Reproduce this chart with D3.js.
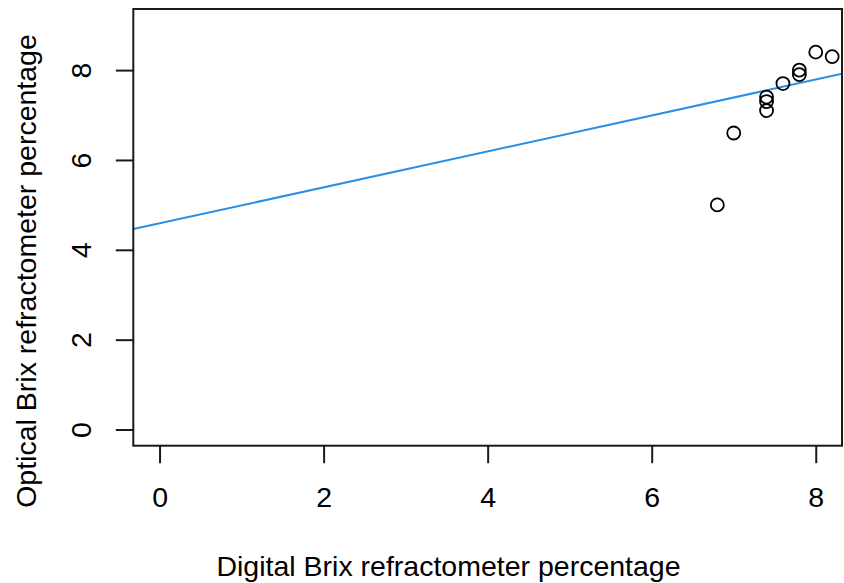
<!DOCTYPE html>
<html>
<head>
<meta charset="utf-8">
<script src="https://cdn.jsdelivr.net/npm/d3@7"></script>
<style>
  html, body { margin: 0; padding: 0; background: #fff; }
  svg text { font-family: "Liberation Sans", Arial, Helvetica, sans-serif; fill: #000; }
</style>
</head>
<body>
<svg id="chart" width="844" height="583"></svg>
<script>
// Digital vs optical Brix readings
const digitalBrix = [8.0, 8.2, 7.8, 7.8, 7.6, 7.4, 7.4, 7.4, 7.0, 6.8];
const opticalBrix = [8.4, 8.3, 8.0, 7.9, 7.7, 7.4, 7.3, 7.1, 6.6, 5.0];

// Reference line (intercept, slope)
const lineIntercept = 4.59;
const lineSlope = 0.40;

const xTicks = [0, 2, 4, 6, 8];
const yTicks = [0, 2, 4, 6, 8];
const xLimits = [0, 8];
const yLimits = [0, 9];

const xTitle = "Digital Brix refractometer percentage";
const yTitle = "Optical Brix refractometer percentage";

const svg = d3.select("#chart");
const plot = { left: 133.3, right: 842, top: 9, bottom: 445.7 };

// R-style 4% padding around the limits
const pad = (lim) => { const d = (lim[1] - lim[0]) * 0.04; return [lim[0] - d, lim[1] + d]; };

const x = d3.scaleLinear().domain(pad(xLimits)).range([plot.left, plot.right]);
const y = d3.scaleLinear().domain(pad(yLimits)).range([plot.bottom, plot.top]);

const fontSize = 28.5;
const tickLen = 17.5;

// Regression line, clipped to the plotting region
svg.append("clipPath").attr("id", "plotClip")
  .append("rect")
  .attr("x", plot.left).attr("y", plot.top)
  .attr("width", plot.right - plot.left).attr("height", plot.bottom - plot.top);

const xd = x.domain();
svg.append("line")
  .attr("clip-path", "url(#plotClip)")
  .attr("x1", x(xd[0])).attr("y1", y(lineIntercept + lineSlope * xd[0]))
  .attr("x2", x(xd[1])).attr("y2", y(lineIntercept + lineSlope * xd[1]))
  .attr("stroke", "#2b8fe6")
  .attr("stroke-width", 2);

// Points (open circles)
svg.append("g")
  .selectAll("circle")
  .data(digitalBrix.map((d, i) => [d, opticalBrix[i]]))
  .join("circle")
  .attr("cx", d => x(d[0]))
  .attr("cy", d => y(d[1]))
  .attr("r", 6.5)
  .attr("fill", "none")
  .attr("stroke", "#000")
  .attr("stroke-width", 1.8);

// Box
svg.append("rect")
  .attr("x", plot.left).attr("y", plot.top)
  .attr("width", plot.right - plot.left).attr("height", plot.bottom - plot.top)
  .attr("fill", "none").attr("stroke", "#1a1a1a").attr("stroke-width", 2);

// X axis
const xAxis = d3.axisBottom(x).tickValues(xTicks).tickSize(tickLen).tickFormat(d3.format("d"));
const gx = svg.append("g").attr("transform", `translate(0,${plot.bottom})`).call(xAxis);
gx.select(".domain").remove();
gx.selectAll(".tick line").attr("stroke", "#1a1a1a").attr("stroke-width", 2);
gx.selectAll(".tick text").attr("font-size", fontSize).attr("font-family", null)
  .attr("dy", null).attr("y", 507 - plot.bottom);

// Y axis (labels rotated, as in base graphics)
const yAxis = d3.axisLeft(y).tickValues(yTicks).tickSize(tickLen).tickFormat(d3.format("d"));
const gy = svg.append("g").attr("transform", `translate(${plot.left},0)`).call(yAxis);
gy.select(".domain").remove();
gy.selectAll(".tick line").attr("stroke", "#1a1a1a").attr("stroke-width", 2);
gy.selectAll(".tick text")
  .attr("font-size", fontSize).attr("font-family", null)
  .attr("x", null).attr("dy", null)
  .attr("text-anchor", "middle")
  .attr("transform", `translate(${90.5 - plot.left},0) rotate(-90)`);

// Axis titles
svg.append("text")
  .attr("x", 448.5).attr("y", 576)
  .attr("text-anchor", "middle")
  .attr("font-size", fontSize)
  .text(xTitle);

svg.append("text")
  .attr("transform", "translate(35.5,271) rotate(-90)")
  .attr("text-anchor", "middle")
  .attr("font-size", fontSize)
  .text(yTitle);
</script>
</body>
</html>
